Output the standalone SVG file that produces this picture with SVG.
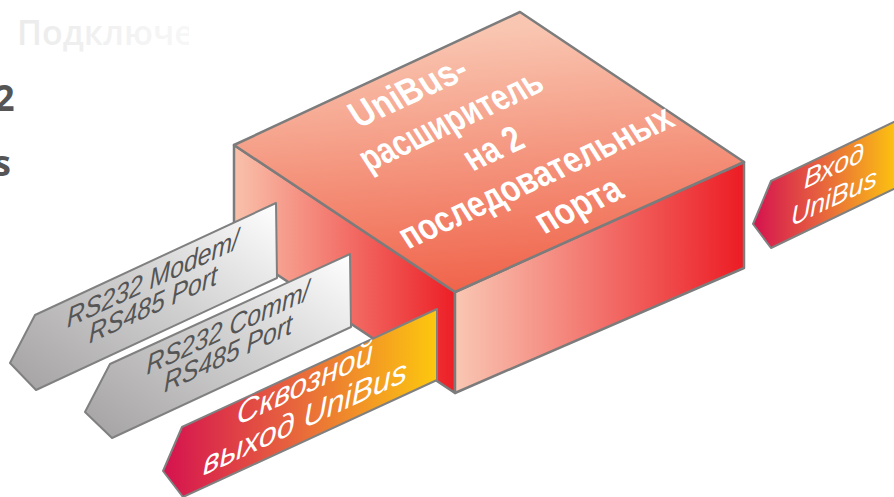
<svg xmlns="http://www.w3.org/2000/svg" width="894" height="497" viewBox="0 0 894 497">
  <defs>
    <linearGradient id="gTop" gradientUnits="userSpaceOnUse" x1="480" y1="30" x2="500" y2="290">
      <stop offset="0" stop-color="#f9c6b1"/>
      <stop offset="1" stop-color="#f0634a"/>
    </linearGradient>
    <linearGradient id="gLeft" gradientUnits="userSpaceOnUse" x1="234" y1="0" x2="455" y2="0">
      <stop offset="0" stop-color="#f9c2ab"/>
      <stop offset="1" stop-color="#ec1f26"/>
    </linearGradient>
    <linearGradient id="gRight" gradientUnits="userSpaceOnUse" x1="455" y1="0" x2="744" y2="0">
      <stop offset="0" stop-color="#f9c7b3"/>
      <stop offset="1" stop-color="#ec1c24"/>
    </linearGradient>
    <linearGradient id="gGray" x1="0" y1="1" x2="1" y2="0">
      <stop offset="0" stop-color="#a3a1a2"/>
      <stop offset="0.55" stop-color="#d2d1d1"/>
      <stop offset="1" stop-color="#ffffff"/>
    </linearGradient>
    <linearGradient id="gOrange" x1="0" y1="0" x2="1" y2="0">
      <stop offset="0" stop-color="#d5124f"/>
      <stop offset="0.45" stop-color="#e6603f"/>
      <stop offset="1" stop-color="#fdc80e"/>
    </linearGradient>
    <linearGradient id="gFaint" gradientUnits="userSpaceOnUse" x1="17" y1="0" x2="190" y2="0">
      <stop offset="0" stop-color="#ebebeb"/>
      <stop offset="1" stop-color="#f7f7f7"/>
    </linearGradient>
    <clipPath id="clipFaint">
      <rect x="0" y="0" width="189" height="60"/>
    </clipPath>
  </defs>
  <style>
    .edge { stroke: #7c7c7c; stroke-width: 2.5; stroke-linejoin: round; }
    .arr { stroke: #808080; stroke-width: 2; stroke-linejoin: round; }
    .boxt { font-family: "Liberation Sans Narrow", "Liberation Sans", Arial, sans-serif; font-weight: bold; font-size: 44px; fill: #ffffff; text-anchor: middle; }
    .grayt { font-family: "Liberation Sans", Arial, sans-serif; font-style: italic; font-size: 28px; fill: #555555; text-anchor: middle; }
    .oranget { font-family: "Liberation Sans", Arial, sans-serif; font-style: italic; fill: #ffffff; text-anchor: middle; }
    .side { font-family: "Open Sans", "Liberation Sans", sans-serif; font-weight: bold; fill: #555555; }
  </style>

  <g id="background-text">
    <text x="17" y="45" clip-path="url(#clipFaint)" font-family="'Open Sans', 'Liberation Sans', sans-serif" font-weight="600" font-size="34" fill="url(#gFaint)">Подключе</text>
    <text class="side" x="14.5" y="111" font-size="36" text-anchor="end">2</text>
    <text class="side" x="11" y="176" font-size="36" text-anchor="end">s</text>
  </g>

  <g id="box">
    <polygon class="edge" fill="url(#gLeft)" points="234,145 455,292 455,393 234,246"/>
    <polygon class="edge" fill="url(#gRight)" points="455,292 744,162 744,268 455,393"/>
    <polygon class="edge" fill="url(#gTop)" points="234,145 520,12 744,162 455,292"/>
    <g transform="matrix(0.907,-0.421,0.833,0.554,500,159)">
      <text class="boxt" transform="translate(0,-102) skewX(-22)" textLength="124" lengthAdjust="spacingAndGlyphs">UniBus-</text>
      <text class="boxt" transform="translate(0,-51) skewX(-22)" textLength="196" lengthAdjust="spacingAndGlyphs">расширитель</text>
      <text class="boxt" transform="translate(0,0) skewX(-22)" textLength="60" lengthAdjust="spacingAndGlyphs">на 2</text>
      <text class="boxt" transform="translate(0,51) skewX(-22)" textLength="296" lengthAdjust="spacingAndGlyphs">последовательных</text>
      <text class="boxt" transform="translate(0,102) skewX(-22)" textLength="90" lengthAdjust="spacingAndGlyphs">порта</text>
    </g>
  </g>

  <g id="connectors">
    <g id="port-modem">
      <polygon class="arr" fill="url(#gGray)" points="10,363 35,315 276,203 277,278 36,390"/>
      <g transform="translate(153,288) skewY(-25)">
        <text class="grayt" x="0" y="0" textLength="172" lengthAdjust="spacingAndGlyphs">RS232 Modem/</text>
        <text class="grayt" x="0" y="26" textLength="128" lengthAdjust="spacingAndGlyphs">RS485 Port</text>
      </g>
    </g>
    <g id="port-comm">
      <polygon class="arr" fill="url(#gGray)" points="85,412 110,364 350,254 351,327 112,438"/>
      <g transform="translate(228,337) skewY(-25)">
        <text class="grayt" x="0" y="0" textLength="163" lengthAdjust="spacingAndGlyphs">RS232 Comm/</text>
        <text class="grayt" x="0" y="26" textLength="128" lengthAdjust="spacingAndGlyphs">RS485 Port</text>
      </g>
    </g>
    <g id="unibus-out">
      <polygon class="arr" fill="url(#gOrange)" points="163,471 182,427 437,309 437,380 183,497"/>
      <g transform="translate(305,394) skewY(-25)">
        <text class="oranget" x="0" y="0" font-size="32" textLength="136" lengthAdjust="spacingAndGlyphs">Сквозной</text>
        <text class="oranget" x="0" y="34" font-size="32" textLength="204" lengthAdjust="spacingAndGlyphs">выход UniBus</text>
      </g>
    </g>
    <g id="unibus-in">
      <polygon class="arr" fill="url(#gOrange)" points="753,224 771,181 900,119 900,186 771,248"/>
      <g transform="translate(834,175) skewY(-25.6)">
        <text class="oranget" x="0" y="0" font-size="27" textLength="60" lengthAdjust="spacingAndGlyphs">Вход</text>
        <text class="oranget" x="0" y="31" font-size="27" textLength="86" lengthAdjust="spacingAndGlyphs">UniBus</text>
      </g>
    </g>
  </g>
</svg>
